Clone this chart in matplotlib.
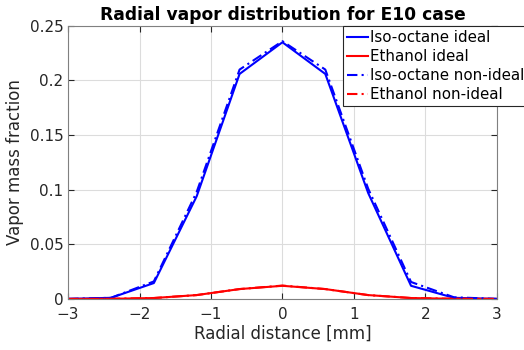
import matplotlib
matplotlib.use("Agg")
import matplotlib.pyplot as plt

r = [-3, -2.4, -1.8, -1.2, -0.6, 0, 0.6, 1.2, 1.8, 2.4, 3]
iso_ideal = [0, 0.001, 0.0145, 0.094, 0.206, 0.235, 0.206, 0.097, 0.012, 0.001, 0]
eth_ideal = [0, 0.0001, 0.0008, 0.0035, 0.009, 0.012, 0.009, 0.0035, 0.0008, 0.0001, 0]
iso_nonideal = [0, 0.001, 0.016, 0.098, 0.210, 0.236, 0.210, 0.101, 0.0155, 0.0015, 0]
eth_nonideal = [0, 0.0001, 0.0008, 0.0035, 0.009, 0.0122, 0.009, 0.0035, 0.0008, 0.0001, 0]

plt.rcParams['font.family'] = 'DejaVu Sans'
fig = plt.figure(figsize=(5.24, 3.5), dpi=100)
ax = fig.add_axes([0.13, 0.146, 0.818, 0.78])

ax.plot(r, iso_ideal, color='blue', lw=1.5, label='Iso-octane ideal')
ax.plot(r, eth_ideal, color='red', lw=1.5, label='Ethanol ideal')
ax.plot(r, iso_nonideal, color='blue', lw=1.5, ls=(0, (5, 2, 1, 2)), label='Iso-octane non-ideal')
ax.plot(r, eth_nonideal, color='red', lw=1.5, ls=(0, (5, 2, 1, 2)), label='Ethanol non-ideal')

ax.set_xlim(-3, 3)
ax.set_ylim(0, 0.25)
ax.set_xticks(range(-3, 4))
ax.set_yticks([0, 0.05, 0.1, 0.15, 0.2, 0.25])
ax.set_yticklabels(['0', '0.05', '0.1', '0.15', '0.2', '0.25'])
ax.grid(True, color='#dcdcdc', lw=0.8)
ax.tick_params(direction='in', top=True, right=True, labelsize=11, colors='#262626', length=4)
ax.tick_params(axis='x', pad=6)
for s in ax.spines.values():
    s.set_color('#808080')

ax.set_xlabel('Radial distance [mm]', fontsize=12, color='#262626', labelpad=2)
ax.set_ylabel('Vapor mass fraction', fontsize=12, color='#262626')
ax.set_title('Radial vapor distribution for E10 case', fontsize=12.3, fontweight='bold', pad=4)

leg = ax.legend(loc='upper left', bbox_to_anchor=(343 / 524, 1 - 26 / 350),
                bbox_transform=fig.transFigure, fontsize=10.8, fancybox=False,
                framealpha=1, edgecolor='#262626', borderaxespad=0,
                handlelength=1.4, handletextpad=0.15, borderpad=0.25, labelspacing=0.28)
leg.get_frame().set_linewidth(0.8)

fig.savefig('out.png', dpi=100)
